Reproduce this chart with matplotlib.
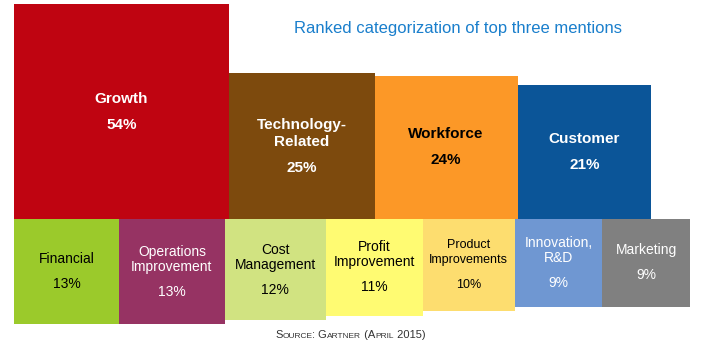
import numpy as np
import matplotlib
matplotlib.use("Agg")
import matplotlib.pyplot as plt
from matplotlib.patches import Rectangle

plt.rcParams['font.family'] = ['Liberation Sans', 'DejaVu Sans']

# top three mentions (upper row) and the rest (lower row)
top_names = ["Growth", "Technology-\nRelated", "Workforce", "Customer"]
top_values = [54, 25, 24, 21]
top_colors = ["#BF0411", "#7D4A0D", "#FC9827", "#0B5598"]
top_text = ["white", "white", "black", "white"]

bot_names = ["Financial", "Operations\nImprovement", "Cost\nManagement",
             "Profit\nImprovement", "Product\nImprovements", "Innovation,\nR&D",
             "Marketing"]
bot_values = [13, 13, 12, 11, 10, 9, 9]
bot_colors = ["#9BCA2B", "#963363", "#D1E381", "#FFFB72", "#FDDD6F",
              "#6F97D2", "#808080"]
bot_text = ["black", "white", "black", "black", "black", "white", "white"]
bot_sizes = [10, 10, 10, 10, 9, 10, 10]

title = "Ranked categorization of top three mentions"

W, H = 722, 349
s = 29.2          # pixels per sqrt(percent)
x0px, y0px = 14, 219  # left edge / baseline in pixels from top-left

fig = plt.figure(figsize=(W / 100, H / 100), dpi=100)
ax = fig.add_axes([0, 0, 1, 1])
ax.set_xlim(-x0px / s, (W - x0px) / s)
ax.set_ylim(-(H - y0px) / s, y0px / s)
ax.axis("off")


def label(cx, cy, name, pct, color, size, bold, ls, gap):
    lines = name.split("\n")
    span = (len(lines) - 1) * ls + gap
    start = cy + span / 2 / s
    w = "bold" if bold else "normal"
    for i, ln in enumerate(lines):
        ax.text(cx, start - i * ls / s, ln, ha="center", va="center",
                color=color, fontsize=size, fontweight=w)
    ax.text(cx, start - span / s, pct, ha="center", va="center",
            color=color, fontsize=size, fontweight=w)


# upper row: squares sitting on the baseline, side ~ sqrt(value)
x = 0
for name, v, c, tc in zip(top_names, top_values, top_colors, top_text):
    side = np.sqrt(v)
    ax.add_patch(Rectangle((x, 0), side, side, facecolor=c, edgecolor="none"))
    label(x + side / 2, side / 2, name, f"{v}%", tc, 11, True, 17, 26)
    x += side

# lower row: squares hanging from the baseline
x = 0
for name, v, c, tc, fs in zip(bot_names, bot_values, bot_colors, bot_text, bot_sizes):
    side = np.sqrt(v)
    ax.add_patch(Rectangle((x, -side), side, side, facecolor=c, edgecolor="none"))
    label(x + side / 2, -side / 2, name, f"{v}%", tc, fs, False, 15, 25)
    x += side

fig.text(458 / W, 1 - 29 / H, title, ha="center", va="center",
         fontsize=12, color="#1A7FCC")

# source line in small caps, built piece by piece
pieces = [("S", 8), ("OURCE", 6), (": G", 8), ("ARTNER", 6), (" (A", 8),
          ("PRIL", 6), (" 2015)", 8)]
renderer = fig.canvas.get_renderer()
px = 275
for txt, fs in pieces:
    t = fig.text(px / W, 1 - 338 / H, txt, ha="left", va="baseline",
                 fontsize=fs, color="#333333")
    bb = t.get_window_extent(renderer)
    px += bb.width

fig.savefig("out.png", dpi=100)
